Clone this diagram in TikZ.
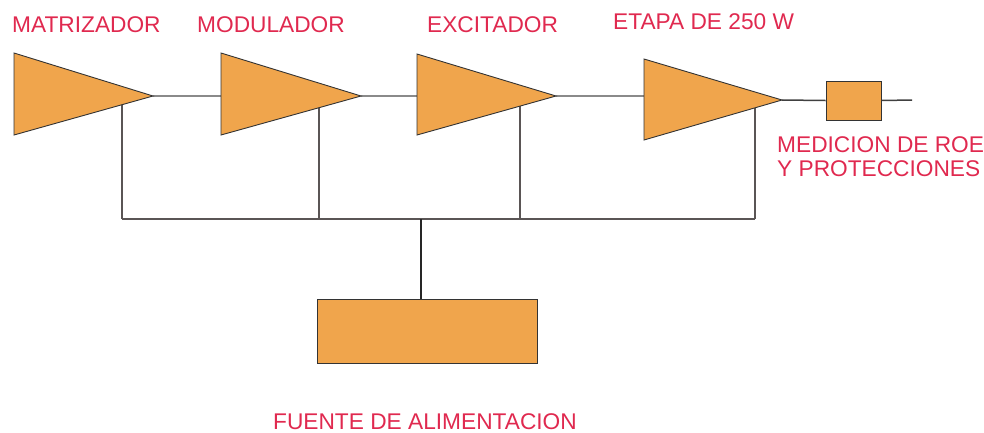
\documentclass[tikz,border=0pt]{standalone}
\usepackage{fontspec}
\setmainfont{Liberation Sans}
\usetikzlibrary{calc}
\definecolor{amp}{HTML}{F0A54C}
\definecolor{lbl}{HTML}{E0294F}
\definecolor{wire}{HTML}{8A8A8A}
\definecolor{bus}{HTML}{5A5555}
\begin{document}
\begin{tikzpicture}[x=1pt,y=-1pt,
  ampshape/.style={fill=amp,draw=black!80,line width=0.9pt,line join=miter},
  boxshape/.style={rectangle,fill=amp,draw=black!80,line width=1pt,inner sep=0pt},
  sig/.style={draw=wire,line width=1.3pt},
  buswire/.style={draw=bus,line width=1.8pt},
  tapwire/.style={draw=bus,line width=1.2pt},
  pwr/.style={draw=black!85,line width=1.3pt},
  outw/.style={draw=black!75,line width=1.5pt},
  lab/.style={text=lbl,font=\fontsize{22.7}{26}\selectfont,inner sep=0pt,anchor=base west,align=left}]
\useasboundingbox (0,0) rectangle (984,432);
% triangle corners
\coordinate (a1t) at (14,53); \coordinate (a1b) at (14,135); \coordinate (a1o) at (153,96);
\coordinate (a2t) at (221,53); \coordinate (a2b) at (221,135); \coordinate (a2o) at (361,96);
\coordinate (a3t) at (417,54); \coordinate (a3b) at (417,135); \coordinate (a3o) at (556,96);
\coordinate (a4t) at (644,59); \coordinate (a4b) at (644,140); \coordinate (a4o) at (782,100);
\coordinate (a2i) at (221,96); \coordinate (a3i) at (417,96); \coordinate (a4i) at (644,96);
% taps on lower edges
\coordinate (k1) at ($(a1b)!0.777!(a1o)$);
\coordinate (k2) at ($(a2b)!0.700!(a2o)$);
\coordinate (k3) at ($(a3b)!0.741!(a3o)$);
\coordinate (k4) at ($(a4b)!0.804!(a4o)$);
\coordinate (bl) at (122,219); \coordinate (br) at (755,219);
\coordinate (bm) at (421,219);
\coordinate (outend) at (912,100);
% wires
\draw[sig] (a1o) -- (a2i);
\draw[sig] (a2o) -- (a3i);
\draw[sig] (a3o) -- (a4i);
\draw[tapwire] (k1) -- (k1 |- bl);
\draw[tapwire] (k2) -- (k2 |- bl);
\draw[tapwire] (k3) -- (k3 |- bl);
\draw[tapwire] (k4) -- (k4 |- br);
\draw[buswire] (bl) -- (br);
% amplifiers
\draw[ampshape] (a1t) -- (a1o) -- (a1b) -- cycle;
\draw[ampshape] (a2t) -- (a2o) -- (a2b) -- cycle;
\draw[ampshape] (a3t) -- (a3o) -- (a3b) -- cycle;
\draw[ampshape] (a4t) -- (a4o) -- (a4b) -- cycle;
% boxes
\node[boxshape,minimum width=55pt,minimum height=39pt] (roe) at (853.5,100.5) {};
\node[boxshape,minimum width=220pt,minimum height=64pt] (psu) at (427,331) {};
\draw[outw] (a4o) -- (roe.west);
\draw[outw] (roe.east) -- (outend);
\draw[pwr] (bm) -- (bm |- psu.north);
% labels
\node[lab] (l1) at (12,32) {MATRIZADOR};
\node[lab] (l2) at (197,32) {MODULADOR};
\node[lab] (l3) at (427,32) {EXCITADOR};
\node[lab] (l4) at (613,29) {ETAPA DE 250 W};
\node[lab] (l5) at (777,152) {MEDICION DE ROE};
\node[lab] (l6) at (777,176) {Y PROTECCIONES};
\node[lab] (l7) at (273,429) {FUENTE DE ALIMENTACION};
\end{tikzpicture}
\end{document}
